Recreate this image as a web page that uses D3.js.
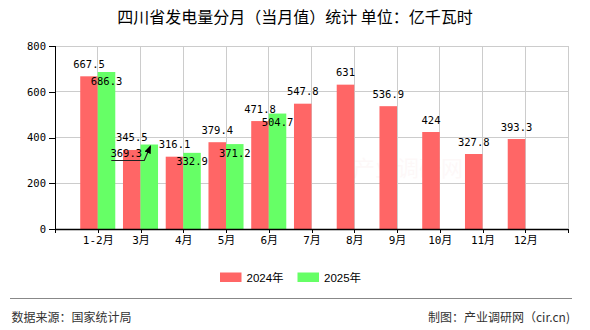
<!DOCTYPE html>
<html><head><meta charset="utf-8">
<script src="https://cdn.jsdelivr.net/npm/d3@7"></script>
<style>
html,body{margin:0;padding:0;background:#fff;}
svg{display:block;}
</style>
</head><body>
<svg id="c" width="590" height="330"></svg>
<script>
const categories = ["1-2月","3月","4月","5月","6月","7月","8月","9月","10月","11月","12月"];
const values2024 = [667.5,345.5,316.1,379.4,471.8,547.8,631,536.9,424,327.8,393.3];
const values2025 = [686.3,369.3,332.9,371.2,504.7];
const seriesNames = ["2024年","2025年"];
const yTicks = [0,200,400,600,800];
const title = "四川省发电量分月（当月值）统计 单位：亿千瓦时";
const sourceText = "数据来源：国家统计局";
const makerText = "制图：产业调研网（cir.cn)";

const colors = ["#ff6666","#66ff66"];
const monoFont = "'DejaVu Sans Mono','Noto Sans CJK SC',monospace";
const cjkFont = "'Noto Sans CJK SC','Noto Sans',sans-serif";

const svg = d3.select("#c");
const L = 55, R = 568, T = 46, B = 229;

const x = d3.scalePoint().domain(categories).range([L, R]).padding(1);
const y = d3.scaleLinear().domain([0, 800]).range([B, T]);
const bw = x.step() * 0.41;

// title
svg.append("text").attr("x", 295).attr("y", 16).attr("text-anchor", "middle")
  .attr("dominant-baseline", "central").attr("font-family", cjkFont)
  .attr("font-size", 16).attr("fill", "#000").text(title);

// grid
const g = svg.append("g");
g.selectAll("line.hg").data(yTicks.filter(d => d > 0)).join("line")
  .attr("x1", L).attr("x2", R).attr("y1", d => y(d)).attr("y2", d => y(d))
  .attr("stroke", "#cccccc").attr("stroke-width", 1).attr("shape-rendering", "crispEdges");
g.selectAll("line.vg").data(categories).join("line")
  .attr("x1", d => x(d)).attr("x2", d => x(d)).attr("y1", T).attr("y2", B)
  .attr("stroke", "#cccccc").attr("stroke-width", 1).attr("shape-rendering", "crispEdges");
g.append("line").attr("x1", R).attr("x2", R).attr("y1", T).attr("y2", B)
  .attr("stroke", "#cccccc").attr("shape-rendering", "crispEdges");

// watermark
svg.append("text").attr("x", 408).attr("y", 166).attr("text-anchor", "middle")
  .attr("dominant-baseline", "central").attr("font-family", cjkFont)
  .attr("font-size", 22).attr("fill", "#e06060").attr("opacity", 0.04).text("产业调研网");

// bars
const bars = svg.append("g");
bars.selectAll("rect.s0").data(values2024).join("rect")
  .attr("x", (d, i) => x(categories[i]) - bw).attr("width", bw)
  .attr("y", d => y(d)).attr("height", d => B - y(d)).attr("fill", colors[0]);
bars.selectAll("rect.s1").data(values2025).join("rect")
  .attr("x", (d, i) => x(categories[i])).attr("width", bw)
  .attr("y", d => y(d)).attr("height", d => B - y(d)).attr("fill", colors[1]);

// axes
const yAxis = d3.axisLeft(y).tickValues(yTicks).tickSize(6).tickFormat(d3.format("d"));
const ya = svg.append("g").attr("transform", `translate(${L},0)`).call(yAxis);
ya.select(".domain").attr("stroke", "#000").attr("shape-rendering", "crispEdges");
ya.selectAll(".tick line").attr("stroke", "#000").attr("shape-rendering", "crispEdges");
ya.selectAll(".tick text").attr("font-family", monoFont).attr("font-size", 10.5).attr("fill", "#000").attr("x", -9);

const xAxis = d3.axisBottom(x).tickSize(4).tickSizeOuter(0);
const xa = svg.append("g").attr("transform", `translate(0,${B})`).call(xAxis);
xa.select(".domain").attr("stroke", "#000").attr("stroke-width", 1.5).attr("d", `M${L},0.5H${R}`);
xa.selectAll(".tick line").attr("stroke", "#000").attr("shape-rendering", "crispEdges");
xa.selectAll(".tick text").attr("font-family", monoFont).attr("font-size", 11).attr("fill", "#000").attr("y", 7);
xa.append("line").attr("x1", L).attr("x2", L).attr("y1", 0).attr("y2", 4).attr("stroke", "#000").attr("shape-rendering", "crispEdges");
xa.append("line").attr("x1", R).attr("x2", R).attr("y1", 0).attr("y2", 4).attr("stroke", "#000").attr("shape-rendering", "crispEdges");

// value labels
const lab = svg.append("g").attr("font-family", monoFont).attr("font-size", 10.5).attr("fill", "#000");
lab.selectAll("text.l0").data(values2024).join("text")
  .attr("x", (d, i) => x(categories[i]) - bw / 2).attr("y", d => y(d) - 12.5)
  .attr("text-anchor", "middle").attr("dominant-baseline", "central").text(d => d);
const shift2025 = i => (i === 1 ? -23 : 0);
lab.selectAll("text.l1").data(values2025).join("text")
  .attr("x", (d, i) => x(categories[i]) + bw / 2 + shift2025(i)).attr("y", d => y(d) + 8.5)
  .attr("text-anchor", "middle").attr("dominant-baseline", "central").text(d => d);

// leader arrow for shifted label (3月 2025)
{
  const i = 1, v = values2025[i];
  const cx = x(categories[i]) + bw / 2 + shift2025(i);
  const ly = y(v) + 8.5 + 7.5;
  const ex = x(categories[i]) + bw / 2 + 1, ey = y(v) + 2;
  svg.append("defs").append("marker").attr("id", "ah").attr("viewBox", "0 0 10 10")
    .attr("refX", 8).attr("refY", 5).attr("markerWidth", 7).attr("markerHeight", 7)
    .attr("orient", "auto").append("path").attr("d", "M0,1L10,5L0,9Z").attr("fill", "#000");
  svg.append("path").attr("d", `M${cx - 15},${ly}H${ex - 6}L${ex},${ey}`)
    .attr("fill", "none").attr("stroke", "#222").attr("stroke-width", 1.2).attr("marker-end", "url(#ah)");
}

// legend
const leg = svg.append("g");
const legX = [220, 297.5];
seriesNames.forEach((n, i) => {
  leg.append("rect").attr("x", legX[i]).attr("y", 272.5).attr("width", 21.5).attr("height", 9.5).attr("fill", colors[i]);
  leg.append("text").attr("x", legX[i] + 26.5).attr("y", 277.5).attr("dominant-baseline", "central")
    .attr("font-family", "'Liberation Sans','Noto Sans CJK SC',sans-serif").attr("font-size", 11.5).attr("fill", "#000").text(n);
});

// footer
svg.append("line").attr("x1", 10).attr("x2", 572).attr("y1", 298.5).attr("y2", 298.5).attr("stroke", "#888").attr("stroke-width", 1);
svg.append("text").attr("x", 11.5).attr("y", 316.5).attr("dominant-baseline", "central")
  .attr("font-family", cjkFont).attr("font-size", 12).attr("fill", "#333").text(sourceText);
svg.append("text").attr("x", 570).attr("y", 316.5).attr("text-anchor", "end").attr("dominant-baseline", "central")
  .attr("font-family", cjkFont).attr("font-size", 12).attr("fill", "#333").text(makerText);
</script>
</body></html>
